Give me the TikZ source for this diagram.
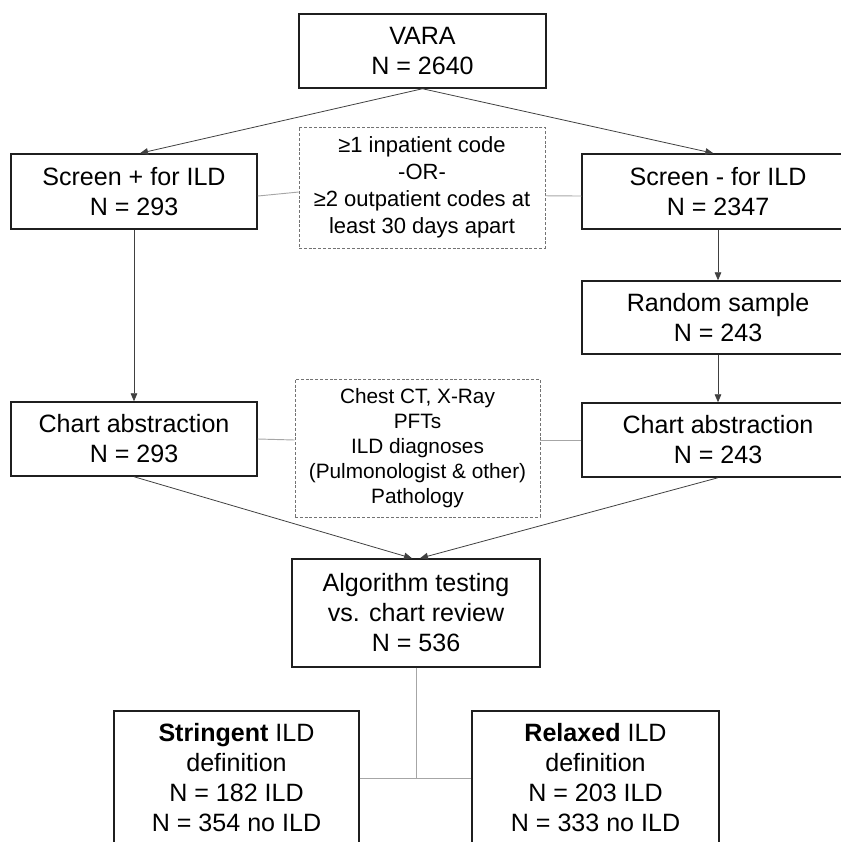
\documentclass[tikz,border=0pt]{standalone}
\usepackage{fontspec}
\setmainfont{Liberation Sans}
\usetikzlibrary{arrows.meta}

\begin{document}
\begin{tikzpicture}[x=0.75pt, y=-0.75pt,
        box/.style={ draw=black!88, line width=1.1pt, inner sep=0pt, align=center,
            font=\fontsize{18.8}{22.5}\selectfont },
        critbox/.style={ draw=black!55, line width=0.7pt, dash pattern=on 2.2pt off 1.4pt,
            inner sep=0pt, align=center },
        flow/.style={ draw=black!75, line width=0.6pt, -{Triangle[length=6pt, width=5pt]} },
        link/.style={ draw=black!35, line width=0.7pt }]
        \useasboundingbox ( 0, 0 ) rectangle ( 841, 842 );
        \clip ( 0, 0 ) rectangle ( 841, 842 );

        % верхний уровень
        \node [ box, minimum width=247*0.75pt, minimum height=74*0.75pt ] (vara) at ( 422.5, 51 ) {VARA\\N = 2640};

        % скрининг
        \node [ box, minimum width=246*0.75pt, minimum height=75*0.75pt ] (scrpos) at ( 134, 191.5 ) {Screen + for ILD\\N = 293};
        \node [ box, minimum width=272*0.75pt, minimum height=75*0.75pt ] (scrneg) at ( 718, 191.5 ) {Screen - for ILD\\N = 2347};
        \node [ critbox, minimum width=246*0.75pt, minimum height=121*0.75pt,
            font=\fontsize{16.5}{20.2}\selectfont ] (crit) at ( 422, 187.5 )
            {≥1 inpatient code\\-OR-\\≥2 outpatient codes at\\least 30 days apart};
        \node [ box, minimum width=272*0.75pt, minimum height=73*0.75pt ] (rand) at ( 718, 317.5 ) {Random sample\\N = 243};

        % выписки из карт
        \node [ box, minimum width=246*0.75pt, minimum height=74*0.75pt ] (chartl) at ( 134, 439 ) {Chart abstraction\\N = 293};
        \node [ box, minimum width=272*0.75pt, minimum height=74*0.75pt ] (chartr) at ( 718, 440 ) {Chart abstraction\\N = 243};
        \node [ critbox, minimum width=245*0.75pt, minimum height=138*0.75pt,
            font=\fontsize{15.6}{18.8}\selectfont ] (data) at ( 417.5, 448 )
            {Chest CT, X-Ray\\PFTs\\ILD diagnoses\\(Pulmonologist \& other)\\Pathology};

        % проверка алгоритма
        \node [ box, minimum width=248*0.75pt, minimum height=108*0.75pt ] (algo) at ( 416, 613 ) {Algorithm testing\\vs. chart review\\N = 536};

        % определения ILD
        \node [ box, minimum width=245*0.75pt, minimum height=134*0.75pt ] (strict) at ( 236.5, 778 )
            {\textbf{Stringent} ILD\\definition\\N = 182 ILD\\N = 354 no ILD};
        \node [ box, minimum width=247*0.75pt, minimum height=134*0.75pt ] (relax) at ( 595.5, 778 )
            {\textbf{Relaxed} ILD\\definition\\N = 203 ILD\\N = 333 no ILD};

        % стрелки
        \draw [ flow ] (vara.south) -- ([xshift=4.5pt]scrpos.north);
        \draw [ flow ] (vara.south) -- ([xshift=-3.5pt]scrneg.north);
        \draw [ flow ] (scrpos.south) -- (chartl.north);
        \draw [ flow ] (scrneg.south) -- (rand.north);
        \draw [ flow ] (rand.south) -- (chartr.north);
        \draw [ flow ] (chartl.south) -- ([xshift=-3pt]algo.north);
        \draw [ flow ] (chartr.south) -- ([xshift=3pt]algo.north);

        % серые связи
        \draw [ link ] ([yshift=-3.4pt]scrpos.east) -- ([yshift=-3.4pt]crit.west);
        \draw [ link ] ([yshift=-6.2pt]crit.east) -- ([yshift=-3.4pt]scrneg.west);
        \draw [ link ] (chartl.east) -- ([yshift=6pt]data.west);
        \draw [ link ] ([yshift=6pt]data.east) -- (chartr.west);
        \draw [ link ] (algo.south) -- (algo.south |- strict.east);
        \draw [ link ] (strict.east) -- (relax.west);
    \end{tikzpicture}
\end{document}
